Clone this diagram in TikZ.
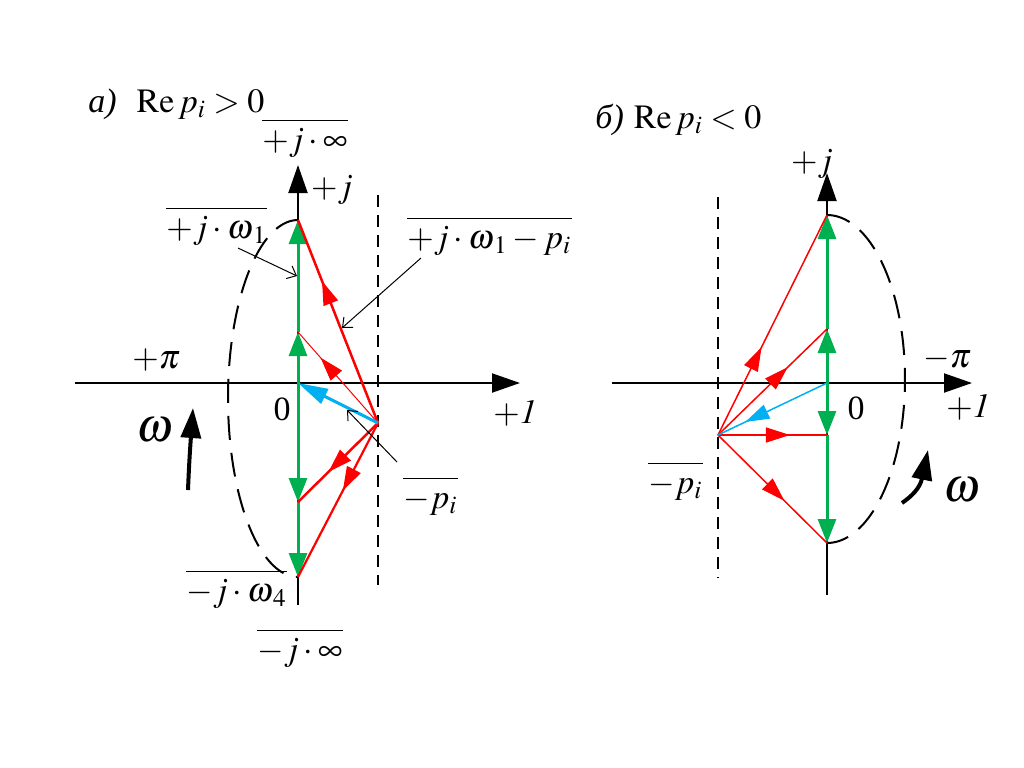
\documentclass[tikz,border=0pt]{standalone}
\usepackage{mathptmx}
\usepackage{fontspec}
\setmainfont{Liberation Serif}
\usetikzlibrary{arrows.meta,decorations.markings,calc}
\definecolor{vecgreen}{RGB}{0,176,80}
\definecolor{vecred}{RGB}{255,0,0}
\definecolor{vecblue}{RGB}{0,176,240}

\begin{document}
\begin{tikzpicture}[x=0.5pt,y=-0.5pt,
  every node/.style={font=\fontsize{17}{20}\selectfont,inner sep=0pt},
  axisline/.style={line width=1pt,-{Triangle[length=14pt,width=9.5pt]}},
  greenvec/.style={draw=vecgreen,line width=1.5pt,
    -{Triangle[length=12pt,width=9pt]}},
  midtip/.style={postaction={decorate},decoration={markings,
    mark=at position #1 with {\arrow{Triangle[length=12pt,width=7.5pt]}}}},
  barred/.style={anchor=base west,text height=0.75em,text depth=0.25em,
    append after command={([yshift=7pt]\tikzlastnode.north west)
      edge[line width=0.8pt] ([yshift=7pt]\tikzlastnode.north east)}},
  leader/.style={line width=0.5pt,-{Straight Barb[length=4pt,width=7pt]}},
  ellipsedash/.style={line width=1pt,dash pattern=on 12pt off 6.5pt},
  griddash/.style={line width=0.7pt,dash pattern=on 6pt off 4pt},
  omegafont/.style={font=\fontsize{24}{28}\selectfont}]
\useasboundingbox (0,0) rectangle (1024,767);

% ---- a) Re p_i > 0
\coordinate (O) at (298,383);
\coordinate (A1) at (298,220);
\coordinate (A2) at (298,332);
\coordinate (A3) at (298,502);
\coordinate (A4) at (298,577);
\coordinate (P) at (378,423);

\draw[ellipsedash] plot[domain=-90:-270,samples=80]
  ({298+70*cos(\x)},{398.5+178.5*sin(\x)});
\draw[griddash] (378,195) -- (378,585);
\draw[axisline] (75,383) -- (520,383);
\draw[axisline] (298,605) -- (298,165);

\draw[greenvec] (O) -- (A2);
\draw[greenvec] (A2) -- (A1);
\draw[greenvec] (O) -- (A3);
\draw[greenvec] (A3) -- (A4);

\draw[color=vecred,line width=1.25pt,midtip=0.7] (P) -- (A1);
\draw[color=vecred,line width=0.5pt,midtip=0.72] (P) -- (A2);
\draw[color=vecred,line width=1.25pt,midtip=0.62] (P) -- (A3);
\draw[color=vecred,line width=1.1pt,midtip=0.44] (P) -- (A4);
\draw[color=vecblue,line width=1.5pt,-{Triangle[length=15pt,width=8pt]}]
  (P) -- (O);

\draw[line width=2pt,-{Triangle[length=15pt,width=10pt]}]
  (188,490) .. controls (189,465) and (190,450) .. (193,408);

\node[anchor=base west] (titleA) at (88,112)
  {\textit{а)}\hspace{10pt}$\mathrm{Re}\,p_i>0$};
\node[barred] (jinf) at (262,150) {$+j\cdot\infty$};
\node (jA) at (332,190) {$+j$};
\node[barred] (jw1) at (166,238) {$+j\cdot\omega_{\mkern2mu 1}$};
\node[barred] (jw1p) at (407,248) {$+j\cdot\omega_{\mkern2mu 1}-p_i$};
\node[anchor=base west] (piA) at (132,368) {$+\pi$};
\node (zeroA) at (282,409) {0};
\node[anchor=base west] (oneA) at (493,423) {$+\mathit{1}$};
\node[omegafont] (omA) at (155,430) {$\omega$};
\node[barred] (pA) at (403,508) {$-p_i$};
\node[barred] (jw4) at (186,601) {$-j\cdot\omega_{\mkern2mu 4}$};
\node[barred] (jminf) at (257,660) {$-j\cdot\infty$};

\coordinate (w1from) at (238,248);
\coordinate (w1to) at (297,276);
\coordinate (w1pfrom) at (421,258);
\coordinate (w1pto) at (342,328);
\coordinate (pfrom) at (397,462);
\coordinate (pto) at (347,410);
\draw[leader] (w1from) -- (w1to);
\draw[leader] (w1pfrom) -- (w1pto);
\draw[leader] (pfrom) -- (pto);

% ---- b) Re p_i < 0
\coordinate (O2) at (827,383);
\coordinate (B1) at (827,215);
\coordinate (B2) at (827,329);
\coordinate (B3) at (827,435);
\coordinate (B4) at (827,543);
\coordinate (P2) at (718,435);

\draw[ellipsedash] plot[domain=-90:90,samples=80]
  ({827+78*cos(\x)},{379+164*sin(\x)});
\draw[griddash] (718,197) -- (718,578);
\draw[axisline] (612,383) -- (972,383);
\draw[axisline] (827,595) -- (827,173);

\draw[greenvec] (O2) -- (B2);
\draw[greenvec] (B2) -- (B1);
\draw[greenvec] (O2) -- (B3);
\draw[greenvec] (B3) -- (B4);

\draw[color=vecred,line width=0.75pt,midtip=0.40] (P2) -- (B1);
\draw[color=vecred,line width=0.75pt,midtip=0.64] (P2) -- (B2);
\draw[color=vecred,line width=0.75pt,midtip=0.66] (P2) -- (B3);
\draw[color=vecred,line width=0.75pt,midtip=0.61] (P2) -- (B4);
\draw[color=vecblue,line width=0.75pt,midtip=0.75] (O2) -- (P2);

\draw[line width=2pt,-{Triangle[length=15pt,width=10pt]}]
  (902,503) .. controls (912,496) and (920,488) .. (928,450);

\node[anchor=base west] (titleB) at (595,128)
  {\textit{б)}\hspace{5pt}$\mathrm{Re}\,p_i<0$};
\node (jB) at (812,164) {$+j$};
\node[anchor=base west] (piB) at (923,367) {$-\pi$};
\node (zeroB) at (856,408) {0};
\node[anchor=base west] (oneB) at (946,417) {$+\mathit{1}$};
\node[omegafont] (omB) at (962,490) {$\omega$};
\node[barred] (pB) at (648,493) {$-p_i$};
\end{tikzpicture}
\end{document}
